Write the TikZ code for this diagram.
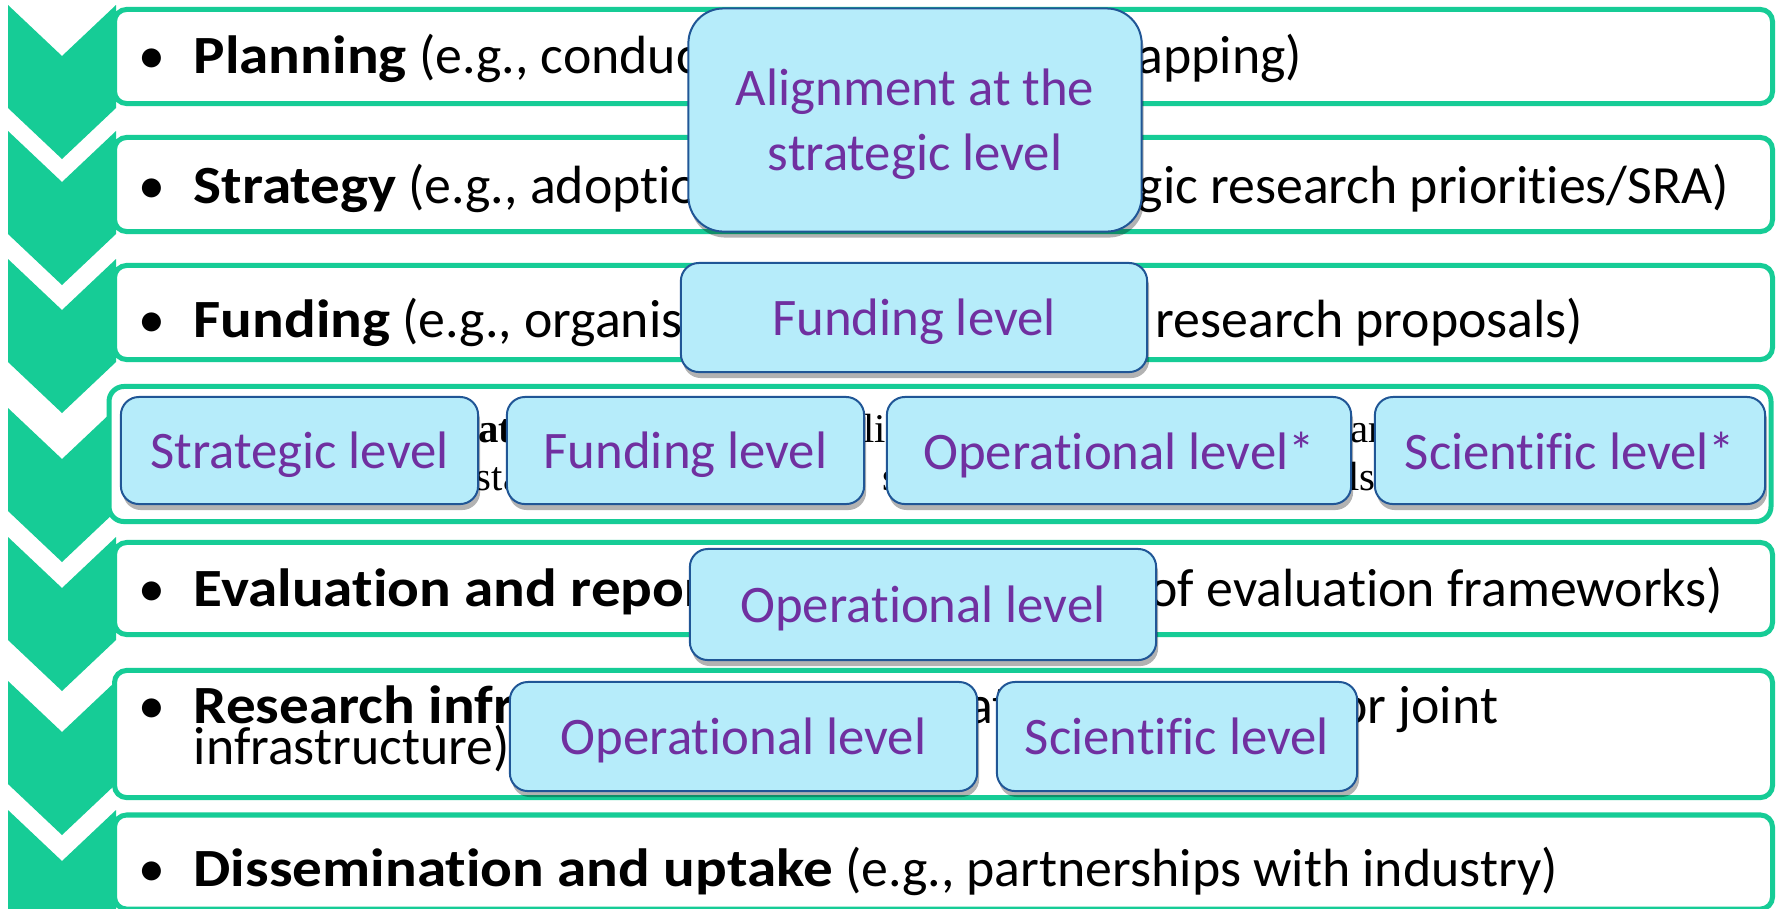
\documentclass[tikz,border=0pt]{standalone}
\usepackage{fontspec}
\setmainfont{Carlito}[Ligatures={NoCommon,NoContextual}, BoldFeatures={FakeStretch=1.1}]
\newfontfamily\serifrow{Liberation Serif}
\usetikzlibrary{shadows}

\definecolor{chevgreen}{RGB}{22,204,150}
\definecolor{lvlfill}{RGB}{182,236,250}
\definecolor{lvlline}{RGB}{32,86,150}
\definecolor{lvltext}{RGB}{112,48,160}

\begin{document}
\begin{tikzpicture}[
    x=0.01cm, y=-0.01cm, % 1 unit = 1 px of the slide, y downwards
    chev/.style={fill=chevgreen},
    rowbox/.style={
        draw=chevgreen, line width=0.05cm,
        fill=white,
        rounded corners=0.12cm,
        minimum width=16.57cm,
        inner sep=0
    },
    bul/.style={anchor=base, inner sep=0, font=\fontsize{15.3}{18}\selectfont},
    rowtext/.style={anchor=base west, inner sep=0, font=\fontsize{15.3}{18}\selectfont},
    serifline/.style={font=\serifrow\fontsize{11.6}{14}\selectfont},
    lvl/.style={                % light blue level boxes on top
        draw=lvlline, line width=0.02cm,
        fill=lvlfill,
        rounded corners=0.18cm,
        text=lvltext,
        font=\fontsize{15}{18.5}\selectfont,
        align=center, inner sep=0, text depth=0pt,
        drop shadow={shadow xshift=0.02cm, shadow yshift=-0.06cm, opacity=0.3, fill=black}
    }
    ]
    \fill[white] (0,0) rectangle (1777,908);
    \useasboundingbox (0,0) rectangle (1777,908);

    % --- chevrons on the left ---
    \foreach \t in {5,131,259,408,537,681,810} {
        \fill[chev] (8,\t) -- (62,\t+51) -- (116,\t) -- (116,\t+103)
            -- (62,\t+154) -- (8,\t+103) -- cycle;
    }

    % --- row boxes ---
    \node[rowbox, minimum height=0.94cm] (row1) at (943.5,56.5) {};
    \node[rowbox, minimum height=0.94cm] (row2) at (943.5,184.5) {};
    \node[rowbox, minimum height=0.94cm] (row3) at (943.5,312.5) {};
    \node[rowbox, minimum width=16.61cm, minimum height=1.35cm, rounded corners=0.15cm] (row4) at (940,454) {};
    \node[rowbox, minimum height=0.92cm] (row5) at (943.5,588.5) {};
    \node[rowbox, minimum height=1.27cm] (row6) at (943.5,734) {};
    \node[rowbox, minimum height=0.94cm] (row7) at (943.5,862) {};

    % --- row texts ---
    \node[bul] (b1) at (152,73) {\textbullet};
    \node[rowtext] (t1) at (193,73) {\textbf{Planning} (e.g., conducting foresight and mapping)};
    \node[bul] (b2) at (152,203) {\textbullet};
    \node[rowtext] (t2) at (193,203) {\textbf{Strategy} (e.g., adoption of common\hspace{0.1cm} strategic research priorities/SRA)};
    \node[bul] (b3) at (152,337) {\textbullet};
    \node[rowtext] (t3) at (193,337) {\textbf{Funding} (e.g., organisation of joint calls for research proposals)};
    \node[bul, serifline] (b4) at (152,442) {\textbullet};
    \node[rowtext, serifline] (t4a) at (193,442) {\textbf{Joint implementation} (e.g., the\hspace{0.5cm} establishment of national joint research activities and};
    \node[rowtext, serifline] (t4b) at (193,490) {joint use of data, standards, models and\hspace{0.35cm} services for national protocols and procedures)};
    \node[bul] (b5) at (152,606) {\textbullet};
    \node[rowtext] (t5) at (193,606) {\textbf{Evaluation and reporting} (e.g., adoption\hspace{0.06cm} of evaluation frameworks)};
    \node[bul] (b6) at (152,723) {\textbullet};
    \node[rowtext] (t6a) at (193,723) {\textbf{Research infrastructure} (e.g., creation of national or joint};
    \node[rowtext] (t6b) at (193,764) {infrastructure)};
    \node[bul] (b7) at (152,886) {\textbullet};
    \node[rowtext] (t7) at (193,886) {\textbf{Dissemination and uptake} (e.g., partnerships with industry)};

    % --- level boxes ---
    \node[lvl, minimum width=4.53cm, minimum height=2.23cm, rounded corners=0.35cm] (align) at (915,120) {Alignment at the\\strategic level};
    \node[lvl, minimum width=4.66cm, minimum height=1.09cm] (fund) at (914,317.5) {Funding level};
    \node[lvl, minimum width=3.57cm, minimum height=1.07cm] (strat4) at (299.5,450.5) {Strategic level};
    \node[lvl, minimum width=3.57cm, minimum height=1.07cm] (fund4) at (685.5,450.5) {Funding level};
    \node[lvl, minimum width=4.64cm, minimum height=1.07cm] (oper4) at (1119,450.5) {Operational level*};
    \node[lvl, minimum width=3.90cm, minimum height=1.07cm] (sci4) at (1570,450.5) {Scientific level*};
    \node[lvl, minimum width=4.66cm, minimum height=1.11cm] (oper5) at (923,604.5) {Operational level};
    \node[lvl, minimum width=4.67cm, minimum height=1.09cm] (oper6) at (743.5,736.5) {Operational level};
    \node[lvl, minimum width=3.60cm, minimum height=1.09cm] (sci6) at (1177,736.5) {Scientific level};
\end{tikzpicture}
\end{document}
